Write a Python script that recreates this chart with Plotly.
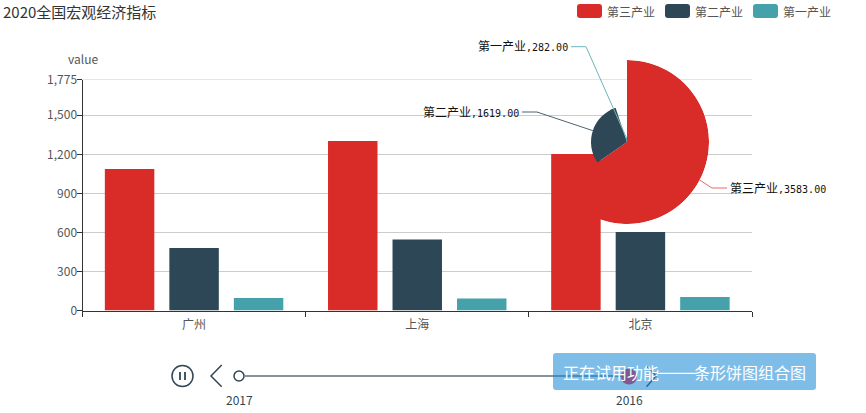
import math
import plotly.graph_objects as go

W, H = 866, 413
cities = ["广州", "上海", "北京"]
tertiary = [1087, 1303, 1203]
secondary = [480, 546, 603]
primary = [96, 92, 104]
series_names = ["第三产业", "第二产业", "第一产业"]
pie_values = [3583, 1619, 282]
y_ticks = [0, 300, 600, 900, 1200, 1500, 1775]
timeline_years = ["2017", "2016"]
colors = ["#d92b27", "#2e4756", "#45a2ab"]
leader_colors = ["#e26a67", "#4d6472", "#6db5bc"]

FONT = "Noto Sans CJK SC, Noto Sans, sans-serif"
TXT = "#555"
NAVY = "#304654"


def X(p):
    return p / W


def Y(p):
    return 1 - p / H


PLOT_L, PLOT_R, PLOT_T, PLOT_B = 82.5, 752, 79.5, 310.5
CX, CY, R = 627, 142, 82
R_FLOOR = 82

fig = go.Figure()
for name, vals, c in zip(series_names, [tertiary, secondary, primary], colors):
    fig.add_bar(x=cities, y=vals, name=name, marker=dict(color=c, line_width=0), showlegend=False)

total = sum(pie_values)
spans = [v / total * 360 for v in pie_values]
mids, acc = [], 0
for s in spans:
    mids.append(acc + s / 2)
    acc += s
fig.add_barpolar(
    r=[v - R_FLOOR for v in pie_values], theta=mids, width=spans,
    marker=dict(color=colors, line_width=0), showlegend=False,
)

shapes, ann = [], []

# top gridline (plotly drops the grid line that sits on the range edge)
shapes.append(dict(type="line", xref="x domain", yref="y", x0=0, x1=1, y0=y_ticks[-1], y1=y_ticks[-1],
                   line=dict(color="#ccc", width=1), layer="below"))


def line(x0, y0, x1, y1, color=NAVY, width=1.5):
    shapes.append(dict(type="line", xref="paper", yref="paper", x0=X(x0), y0=Y(y0), x1=X(x1), y1=Y(y1),
                       line=dict(color=color, width=width)))


def text(x, y, t, size=12, color=TXT, anchor="center", font=FONT):
    ann.append(dict(xref="paper", yref="paper", x=X(x), y=Y(y), text=t, showarrow=False, xanchor=anchor,
                    yanchor="middle", font=dict(size=size, color=color, family=font), borderpad=0, borderwidth=0))


def path(d, color=None, stroke=None, width=1.5):
    shapes.append(dict(type="path", xref="paper", yref="paper", path=d, fillcolor=color,
                       line=dict(color=stroke, width=width if stroke else 0)))


def pts(*p):
    out = []
    for i, (a, b) in enumerate(p):
        out.append(("M" if i == 0 else "L") + f"{X(a):.5f},{Y(b):.5f}")
    return " ".join(out)


def rrect(x0, x1, y0, y1, rr):
    return (f"M{X(x0+rr):.5f},{Y(y0):.5f} L{X(x1-rr):.5f},{Y(y0):.5f} Q{X(x1):.5f},{Y(y0):.5f} {X(x1):.5f},{Y(y0+rr):.5f} "
            f"L{X(x1):.5f},{Y(y1-rr):.5f} Q{X(x1):.5f},{Y(y1):.5f} {X(x1-rr):.5f},{Y(y1):.5f} "
            f"L{X(x0+rr):.5f},{Y(y1):.5f} Q{X(x0):.5f},{Y(y1):.5f} {X(x0):.5f},{Y(y1-rr):.5f} "
            f"L{X(x0):.5f},{Y(y0+rr):.5f} Q{X(x0):.5f},{Y(y0):.5f} {X(x0+rr):.5f},{Y(y0):.5f} Z")


def circle(cx, cy, r, stroke=NAVY, fill=None, width=1.5):
    shapes.append(dict(type="circle", xref="paper", yref="paper", x0=X(cx - r), x1=X(cx + r),
                       y0=Y(cy + r), y1=Y(cy - r), fillcolor=fill,
                       line=dict(color=stroke, width=width if stroke else 0)))


# legend
for name, c, lx in zip(series_names, colors, [577, 665, 753]):
    path(rrect(lx, lx + 25, 4, 18, 3), color=c)
    text(lx + 30, 11.5, name, size=12, anchor="left")

# pie leaders and labels
elbows = [(712, 188, 727, 730, "left"), (537, 112, 522, 519, "right"), (586, 46.7, 571, 568, "right")]
for name, v, m, c, e in zip(series_names, pie_values, mids, leader_colors, elbows):
    r = (v - R_FLOOR) / (pie_values[0] - R_FLOOR) * R
    sx = CX + r * math.sin(math.radians(m))
    sy = CY - r * math.cos(math.radians(m))
    path(pts((sx, sy), (e[0], e[1]), (e[2], e[1])), stroke=c, width=1)
    label = f"{name}<span style='font-size:10px'>,{v:.2f}</span>"
    text(e[3], e[1] + 0.5, label, size=12, color="#111", anchor=e[4], font="DejaVu Sans Mono, Noto Sans CJK SC, monospace")

# title and axis name
text(3, 12, "2020全国宏观经济指标", size=15, color="#333", anchor="left")
text(82.5, 59, "value", size=12)

# timeline
line(245, 376, 629, 376, color="#5b6f7c", width=1.5)
circle(182.5, 376, 10.5)
line(180, 372, 180, 380, width=1.8)
line(185, 372, 185, 380, width=1.8)
path(pts((221.7, 365), (211, 376), (221.7, 386.7)), stroke=NAVY)
circle(239, 376, 5)
circle(629, 376.5, 8, stroke=None, fill="#ff2344")
path(pts((646.5, 365.5), (656, 376), (646.5, 386.7)), stroke=NAVY)
text(239, 399, timeline_years[0], size=12, color=NAVY)
text(629, 399, timeline_years[1], size=12, color=NAVY)

# trial banner
shapes.append(dict(type="path", xref="paper", yref="paper", path=rrect(553, 816, 353, 390, 3),
                   fillcolor="rgba(22,135,215,0.55)", line_width=0))
line(657, 373.3, 695, 373.3, color="#ffffff", width=1.2)
text(563, 372, "正在试用功能", size=16, color="#fff", anchor="left")
text(694, 372, "条形饼图组合图", size=16, color="#fff", anchor="left")

fig.update_layout(
    width=W, height=H, margin=dict(l=0, r=0, t=0, b=0, autoexpand=False), paper_bgcolor="#fff", plot_bgcolor="#fff",
    barmode="group", bargap=0.133, bargroupgap=0.233,
    font=dict(family=FONT, size=12, color=TXT),
    xaxis=dict(domain=[X(PLOT_L), X(PLOT_R)], tickson="boundaries", ticks="outside", ticklen=5, tickcolor="#333",
               linecolor="#333", linewidth=1, showline=True, showgrid=False, zeroline=False, automargin=False,
               categoryorder="array", categoryarray=cities, ticklabelstandoff=3),
    yaxis=dict(domain=[Y(PLOT_B), Y(PLOT_T)], range=[0, 1775], tickvals=y_ticks, tickformat=",d", ticks="outside",
               ticklen=5, tickcolor="#333", linecolor="#333", linewidth=1, showline=True, automargin=False,
               gridcolor="#ccc", gridwidth=1, zeroline=False, ticklabelstandoff=-3),
    polar=dict(
        domain=dict(x=[X(CX - R), X(CX + R)], y=[Y(CY + R), Y(CY - R)]),
        bgcolor="rgba(0,0,0,0)",
        radialaxis=dict(visible=False, range=[0, pie_values[0] - R_FLOOR]),
        angularaxis=dict(visible=False, direction="clockwise", rotation=90),
        gridshape="circular",
    ),
    shapes=shapes, annotations=ann,
)
fig.write_html("out.html", config=dict(displayModeBar=False),
               post_script="document.body.style.margin='0';")
